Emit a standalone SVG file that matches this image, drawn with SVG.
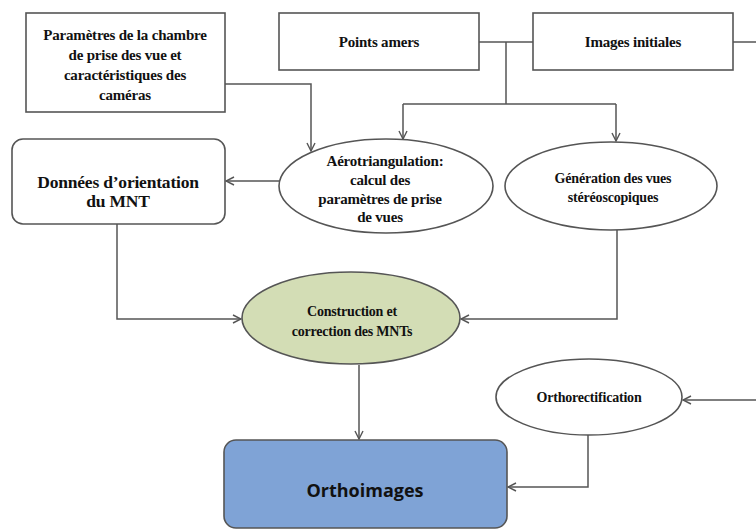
<svg xmlns="http://www.w3.org/2000/svg" width="756" height="530" viewBox="0 0 756 530">
<defs>
<style>
.n{fill:#fff;stroke:#555;stroke-width:1.6}
.t{font-family:"Liberation Serif",serif;font-weight:bold;font-size:15px;fill:#111;text-anchor:middle;letter-spacing:-0.2px}
.s{font-size:14px}
.c{fill:none;stroke:#555;stroke-width:1.5}
</style>
<marker id="a" viewBox="0 0 10 10" refX="9" refY="5" markerWidth="10" markerHeight="10" markerUnits="userSpaceOnUse" orient="auto">
<path d="M1,1 L9,5 L1,9" fill="none" stroke="#555" stroke-width="1.4"/>
</marker>
</defs>
<rect width="756" height="530" fill="#fff"/>
<g id="connectors">
<path class="c" d="M225,84 H311 V151" marker-end="url(#a)"/>
<path class="c" d="M479,42 H533"/>
<path class="c" d="M733,42 H756"/>
<path class="c" d="M506,42 V104"/>
<path class="c" d="M403,104 H616"/>
<path class="c" d="M403,104 V139" marker-end="url(#a)"/>
<path class="c" d="M616,104 V141" marker-end="url(#a)"/>
<path class="c" d="M279,181 H226" marker-end="url(#a)"/>
<path class="c" d="M117,224 V319 H241" marker-end="url(#a)"/>
<path class="c" d="M617,230 V319 H461" marker-end="url(#a)"/>
<path class="c" d="M359,365 V439" marker-end="url(#a)"/>
<path class="c" d="M756,400 H683" marker-end="url(#a)"/>
<path class="c" d="M588,435 V487 H508" marker-end="url(#a)"/>
</g>
<g id="parametres">
<rect class="n" x="26" y="13" width="199" height="99"/>
<text class="t" x="125" y="40">Paramètres de la chambre</text>
<text class="t" x="125" y="60">de prise des vue et</text>
<text class="t" x="125" y="80">caractéristiques des</text>
<text class="t" x="125" y="100">caméras</text>
</g>
<g id="points-amers">
<rect class="n" x="279" y="13" width="200" height="57"/>
<text class="t" x="379" y="47">Points amers</text>
</g>
<g id="images-initiales">
<rect class="n" x="533" y="13" width="200" height="57"/>
<text class="t" x="633" y="47">Images initiales</text>
</g>
<g id="donnees">
<rect class="n" x="12" y="139" width="213" height="85" rx="11"/>
<text class="t" x="118" y="188" style="font-size:17.5px">Données d’orientation</text>
<text class="t" x="118" y="207" style="font-size:17.5px">du MNT</text>
</g>
<g id="aerotriangulation">
<ellipse class="n" cx="386" cy="186" rx="107" ry="47"/>
<text class="t" x="385" y="166">Aérotriangulation:</text>
<text class="t" x="380" y="185">calcul des</text>
<text class="t" x="380" y="204">paramètres de prise</text>
<text class="t" x="380" y="222">de vues</text>
</g>
<g id="generation">
<ellipse class="n" cx="611" cy="186" rx="106" ry="44"/>
<text class="t s" x="613" y="183">Génération des vues</text>
<text class="t s" x="613" y="202">stéréoscopiques</text>
</g>
<g id="construction">
<ellipse class="n" cx="351" cy="318" rx="109" ry="46" style="fill:#d3ddb5"/>
<text class="t s" x="352" y="316">Construction et</text>
<text class="t s" x="352" y="336">correction des MNTs</text>
</g>
<g id="orthorectification">
<ellipse class="n" cx="589" cy="397" rx="93" ry="38"/>
<text class="t s" x="589" y="402">Orthorectification</text>
</g>
<g id="orthoimages">
<rect class="n" x="224" y="440" width="283" height="88" rx="12" style="fill:#7fa3d6"/>
<text x="365" y="497" style="font-family:'Open Sans',sans-serif;font-size:18px;font-weight:700;fill:#111;text-anchor:middle">Orthoimages</text>
</g>
</svg>
